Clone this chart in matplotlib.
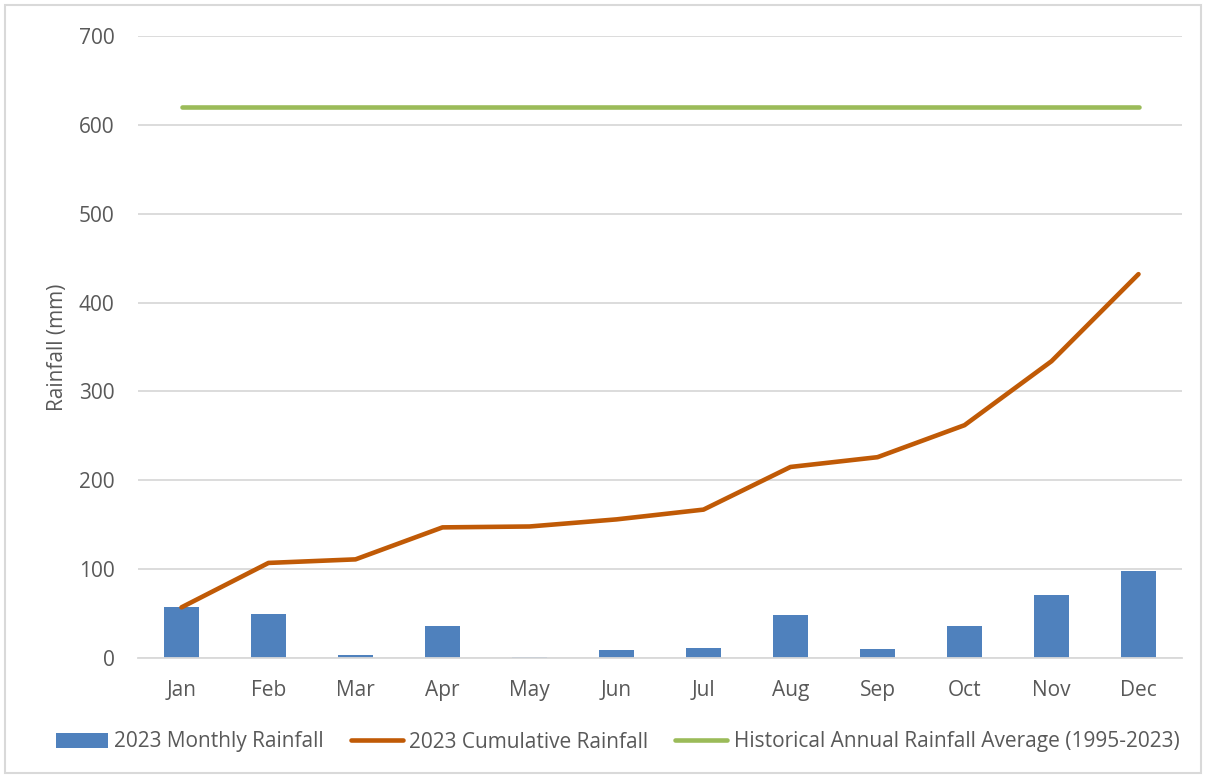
import matplotlib.pyplot as plt
import numpy as np

months = ["Jan", "Feb", "Mar", "Apr", "May", "Jun", "Jul", "Aug", "Sep", "Oct", "Nov", "Dec"]
monthly = [57, 50, 3, 36, 1, 9, 11, 48, 10, 36, 71, 98]
cumulative = [57, 107, 111, 147, 148, 156, 167, 215, 226, 262, 334, 432]
hist_avg = [620] * 12

plt.rcParams["font.family"] = ["Open Sans", "DejaVu Sans"]
text_col = "#595959"
grid_col = "#d9d9d9"

fig = plt.figure(figsize=(12.06, 7.78), dpi=100)
ax = fig.add_axes([138 / 1206, 1 - 658 / 778, 1044 / 1206, 622 / 778])

x = np.arange(len(months))
bars = ax.bar(x, monthly, width=0.4, color="#4f81bd", label="2023 Monthly Rainfall", zorder=2)
cum_line, = ax.plot(x, cumulative, color="#c05a06", lw=3.3, solid_capstyle="round",
                    label="2023 Cumulative Rainfall", zorder=3)
avg_line, = ax.plot(x, hist_avg, color="#9bbb59", lw=3.3, solid_capstyle="round",
                    label="Historical Annual Rainfall Average (1995-2023)", zorder=3)

ax.set_xlim(-0.5, 11.5)
ax.set_ylim(0, 700)
ax.set_yticks(range(0, 701, 100))
ax.set_xticks(x)
ax.set_xticklabels(months)
ax.yaxis.grid(True, color=grid_col, lw=1.3, zorder=0)
for s in ["top", "right", "left"]:
    ax.spines[s].set_visible(False)
ax.spines["bottom"].set_color(grid_col)
ax.spines["bottom"].set_linewidth(1.3)
ax.tick_params(axis="both", length=0, labelsize=15, colors=text_col)
ax.tick_params(axis="y", pad=17)
ax.tick_params(axis="x", pad=16)
ax.set_ylabel("Rainfall (mm)", fontsize=15, color=text_col, labelpad=8)

fig.legend(handles=[bars, cum_line, avg_line], loc="center",
           bbox_to_anchor=(0.512, 1 - 742 / 778), ncol=3, frameon=False,
           fontsize=15, labelcolor=text_col, handlelength=2.5, handletextpad=0.3,
           columnspacing=1.3)

# light border around the whole chart
fig.patches.append(plt.Rectangle((5 / 1206, 5 / 778), 1 - 10 / 1206, 1 - 10 / 778,
                                 transform=fig.transFigure, fill=False,
                                 edgecolor=grid_col, lw=1.5))

fig.savefig("out.png", dpi=100)
